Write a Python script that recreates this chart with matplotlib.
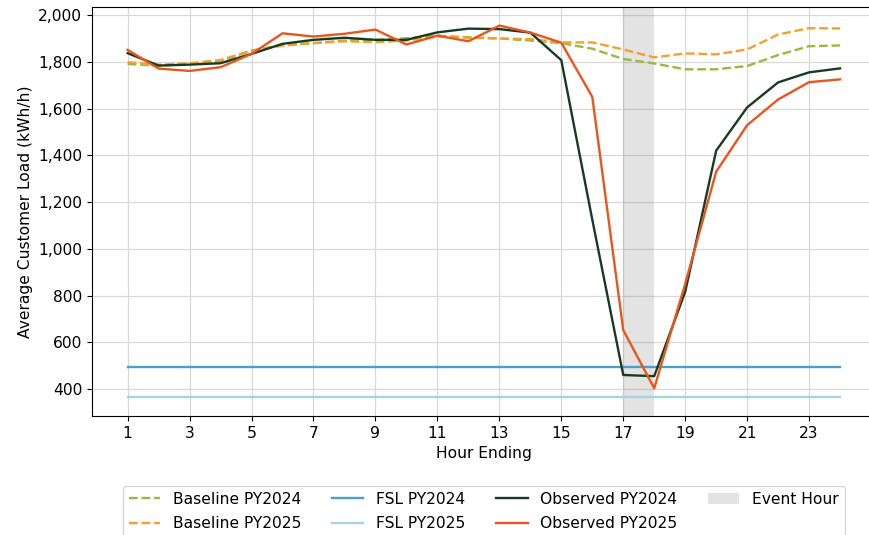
import numpy as np
import matplotlib.pyplot as plt
from matplotlib.ticker import FuncFormatter

hours = list(range(1, 25))

baseline_py2024 = [1791, 1783, 1791, 1803, 1848, 1872, 1880, 1891, 1894, 1901, 1912, 1905,
                   1900, 1891, 1880, 1856, 1812, 1793, 1768, 1768, 1782, 1829, 1867, 1870]
baseline_py2025 = [1798, 1788, 1794, 1808, 1848, 1869, 1880, 1888, 1884, 1891, 1908, 1903,
                   1900, 1897, 1883, 1883, 1853, 1819, 1836, 1832, 1853, 1917, 1944, 1943]
observed_py2024 = [1837, 1784, 1788, 1794, 1834, 1877, 1894, 1903, 1894, 1894, 1926, 1942,
                   1940, 1925, 1807, 1125, 460, 455, 816, 1420, 1605, 1712, 1755, 1772]
observed_py2025 = [1851, 1771, 1761, 1777, 1834, 1922, 1908, 1920, 1938, 1874, 1912, 1888,
                   1955, 1925, 1882, 1650, 652, 403, 850, 1330, 1529, 1639, 1713, 1725]
fsl_py2024 = 495
fsl_py2025 = 364
event_start, event_end = 17, 18


def main():
    plt.rcParams['font.size'] = 11.2

    fig = plt.figure(figsize=(8.69, 5.35), dpi=100)
    # the reference is cropped on the right, so the axes run past the figure edge
    ax = fig.add_axes([0.1059, 0.2224, 0.9018, 0.7645])

    ax.plot(hours, baseline_py2024, '--', color='#9bb83f', lw=1.7, label='Baseline PY2024')
    ax.plot(hours, baseline_py2025, '--', color='#f6a02c', lw=1.7, label='Baseline PY2025')
    ax.plot(hours, [fsl_py2024] * len(hours), color='#4a9fc6', lw=1.7, label='FSL PY2024')
    ax.plot(hours, [fsl_py2025] * len(hours), color='#a8d3e5', lw=1.7, label='FSL PY2025')
    ax.plot(hours, observed_py2024, color='#173b22', lw=1.7, label='Observed PY2024')
    ax.plot(hours, observed_py2025, color='#e8561e', lw=1.7, label='Observed PY2025')
    ax.axvspan(event_start, event_end, color='grey', alpha=0.22, lw=0, label='Event Hour')

    ax.set_xlim(-0.15, 25.15)
    ax.set_xticks(range(1, 25, 2))
    ax.yaxis.set_major_formatter(FuncFormatter(lambda v, p: f'{v:,.0f}'))
    ax.grid(True, color='#d8d8d8', lw=0.9)
    ax.set_axisbelow(True)
    ax.set_xlabel('Hour Ending')
    ax.set_ylabel('Average Customer Load (kWh/h)')

    ax.legend(loc='upper center', bbox_to_anchor=(0.5, -0.151), ncol=4, frameon=True,
              labelspacing=0.6)

    fig.savefig('out.png', dpi=100)


if __name__ == "__main__":
    main()
